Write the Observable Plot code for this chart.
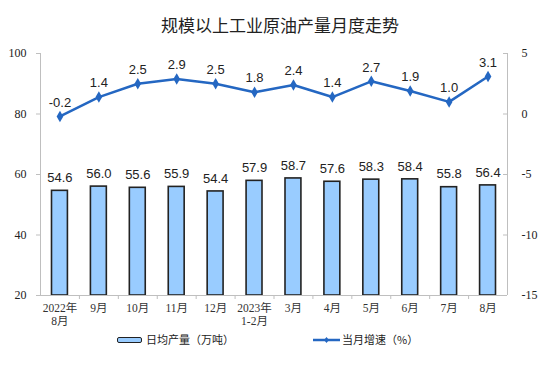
<!DOCTYPE html>
<html><head><meta charset="utf-8">
<script src="https://cdn.jsdelivr.net/npm/d3@7"></script>
<script src="https://cdn.jsdelivr.net/npm/@observablehq/plot@0.6"></script>
<style>
body{margin:0;background:#fff;width:550px;height:371px;position:relative;overflow:hidden;font-family:"Noto Sans CJK SC",sans-serif;}
#title{position:absolute;left:0;top:14px;width:560px;text-align:center;font-size:17px;line-height:22px;color:#222;}
#chart{position:absolute;left:0;top:40px;}
.leg{position:absolute;top:330px;height:18px;line-height:18px;font-size:11px;color:#222;white-space:nowrap;}
.sw{display:inline-block;width:23px;height:4px;border:1.5px solid #222;border-radius:2px;background:#99ccff;vertical-align:middle;margin-right:4px;position:relative;top:-1px;}
.ls{display:inline-block;vertical-align:middle;margin-right:2px;position:relative;top:-1px;}
</style></head><body>
<div id="title">规模以上工业原油产量月度走势</div>
<div id="chart"></div>
<div class="leg" style="left:117px"><span class="sw"></span>日均产量（万吨）</div>
<div class="leg" style="left:313px"><svg class="ls" width="27" height="10"><line x1="0" y1="5" x2="27" y2="5" stroke="#2467C2" stroke-width="2.5"/><path d="M13.5,2 L16,5 L13.5,8 L11,5Z" fill="#2467C2"/></svg>当月增速（%）</div>
<script>
const months = ["2022年\n8月","9月","10月","11月","12月","2023年\n1-2月","3月","4月","5月","6月","7月","8月"];
const output = [54.6,56.0,55.6,55.9,54.4,57.9,58.7,57.6,58.3,58.4,55.8,56.4];
const growth = [-0.2,1.4,2.5,2.9,2.5,1.8,2.4,1.4,2.7,1.9,1.0,3.1];
const leftTicks = [20,40,60,80,100];
const rightTicks = [-15,-10,-5,0,5];
const toLeft = g => 80 + 4 * g;

const data = months.map((m, i) => ({i, m, v: output[i], g: growth[i], gy: toLeft(growth[i])}));
const axisColor = "#bfbfbf";
const lineColor = "#2467C2";

const chart = Plot.plot({
  width: 550,
  height: 290,
  marginTop: 13,
  marginBottom: 35,
  marginLeft: 40,
  marginRight: 43,
  x: {domain: [0, months.length], axis: null},
  y: {domain: [20, 100], axis: null},
  style: {fontFamily: "'Liberation Sans', Arial, sans-serif", fontSize: "13px", background: "white", overflow: "visible"},
  marks: [
    Plot.rect(data, {x1: "i", x2: d => d.i + 1, y1: 20, y2: "v", insetLeft: 11.5, insetRight: 11.5, fill: "#99ccff", stroke: "#222", strokeWidth: 1.6}),
    Plot.ruleY([20], {stroke: axisColor}),
    Plot.ruleX([0, months.length], {stroke: axisColor}),
    Plot.ruleX(d3.range(1, months.length), {y1: 20, y2: 20, insetBottom: -4, stroke: axisColor}),
    Plot.ruleY(rightTicks.map(toLeft), {x1: months.length, x2: months.length, insetLeft: -4, stroke: axisColor}),
    Plot.axisY({anchor: "left", ticks: leftTicks, tickSize: 4, tickPadding: 10, stroke: axisColor, fill: "#222", fontFamily: "'Liberation Serif', serif", fontSize: 12, label: null}),
    Plot.axisY({anchor: "right", ticks: rightTicks.map(toLeft), tickFormat: v => String(rightTicks[leftTicks.indexOf(v)]), tickSize: 0, tickPadding: 14, fill: "#222", fontFamily: "'Liberation Serif', serif", fontSize: 12, label: null}),
    Plot.axisX({anchor: "bottom", ticks: data.map(d => d.i + 0.5), tickFormat: t => months[Math.floor(t)], tickSize: 0, tickPadding: 7, lineHeight: 1.15, fill: "#333", fontFamily: "'Liberation Serif', 'Noto Sans CJK SC', serif", fontSize: 11.5, label: null}),
    Plot.text(data, {x: d => d.i + 0.5, y: "v", text: d => d.v.toFixed(1), dy: -13, fill: "#222"}),
    Plot.line(data, {x: d => d.i + 0.5, y: "gy", stroke: lineColor, strokeWidth: 2.5}),
    Plot.dot(data, {x: d => d.i + 0.5, y: "gy", symbol: "diamond", r: 3.5, fill: lineColor}),
    Plot.text(data, {x: d => d.i + 0.5, y: "gy", text: d => d.g.toFixed(1), dy: -14, fill: "#222"})
  ]
});
document.getElementById("chart").appendChild(chart);
</script>
</body></html>
